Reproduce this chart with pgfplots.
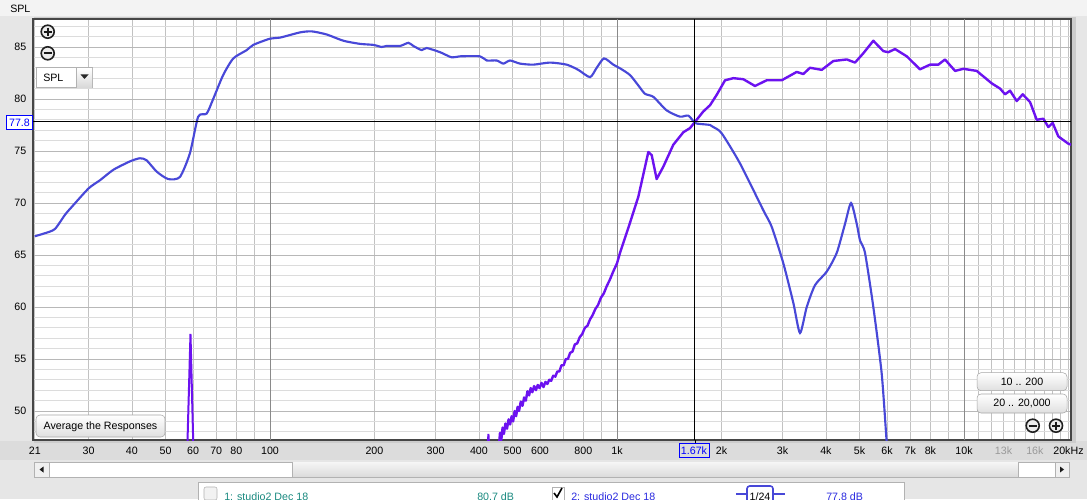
\documentclass[border=0pt]{standalone}
\usepackage{fontspec}
\setmainfont{Liberation Sans}
\usepackage{pgfplots}
\usepackage{pgfplotstable}
\pgfplotsset{compat=1.18}

\definecolor{winbg}{HTML}{E6E6E6}
\definecolor{topbg}{HTML}{F3F3F3}
\definecolor{bandbg}{HTML}{DCDCDC}
\definecolor{gridx}{HTML}{C2C2C2}
\definecolor{gridy}{HTML}{DCDCDC}
\definecolor{gridy5}{HTML}{B8B8B8}
\definecolor{griddec}{HTML}{8A8A8A}
\definecolor{woofer}{HTML}{4848D8}
\definecolor{tweeter}{HTML}{6C12F0}
\definecolor{tealtxt}{HTML}{1A8A80}
\definecolor{bluetxt}{HTML}{2A2AE0}

% frequency (Hz), SPL (dB)
\pgfplotstableread{
f spl
21 66.8
22.5 67.1
24.0 67.5
25.7 68.9
26.8 69.6
30.0 71.4
32.4 72.2
35.4 73.2
39.5 74.0
42.2 74.3
44.1 74.1
47.2 73.0
50.9 72.3
55.0 72.5
58.8 74.8
62.1 78.3
65.7 78.6
68.6 80.0
73.3 82.3
78.4 83.9
85.7 84.7
89.5 85.2
100 85.8
106.9 85.9
122 86.4
131.9 86.5
145.7 86.2
162.7 85.6
181.6 85.3
198.5 85.2
209.9 85.0
216.9 85.1
237 85.1
250.4 85.4
258.8 85.1
273.7 84.7
282.8 84.9
309 84.5
334 84.0
352.7 84.1
402.9 84.1
421.2 83.7
450.1 83.7
470.3 83.4
491.6 83.7
525.4 83.4
573.9 83.3
641 83.5
716.1 83.3
773.4 82.8
836 82.1
873.9 83.0
917.6 83.9
975.7 83.3
1020 82.95
1090 82.3
1152 81.3
1204 80.5
1273 80.2
1391 78.9
1519 78.3
1605 78.4
1678 77.7
1735 77.6
1854 77.5
1895 77.3
2003 76.7
2262 73.8
2640 69.3
2792 67.7
3015 64.2
3222 60.4
3368 57.5
3522 60.0
3721 62.1
4021 63.4
4297 65.2
4541 68.0
4725 70.0
4907 68.0
5015 66.4
5184 65.2
5478 60.0
5791 53.6
5987 47.0
6100 44.0
}\woofer

\pgfplotstableread{
f spl
57.5 44.0
59.0 57.4
60.4 44.0
}\tweeterspike

\pgfplotstableread{
f spl
421 45.0
426 47.8
431 45.0
}\tweeterbit

\pgfplotstableread{
f spl
452 44.5
460 47.9
464 47.2
468 48.4
472 47.8
477 48.8
482 48.3
487 49.2
492 48.7
497 49.5
502 49.0
507 50.0
512 49.5
517 50.4
522 50.0
528 50.9
534 50.5
540 51.3
546 51.0
552 51.9
558 51.5
564 52.2
570 51.8
577 52.4
584 52.0
591 52.5
598 52.2
606 52.7
614 52.3
622 52.8
630 52.6
638 53.0
646 52.9
655 53.4
664 53.3
673 53.8
682 53.8
692 54.4
702 54.4
712 55.0
722 55.0
733 55.6
744 55.7
756 56.4
768 56.5
781 57.1
794 57.4
808 58.0
822 58.2
836 58.8
850 59.2
866 59.8
882 60.2
899 60.9
916 61.3
934 62.0
953 62.6
975 63.4
1000 64.2
1020 65.2
1078 67.6
1152 70.6
1231 74.9
1259 74.6
1301 72.3
1360 73.5
1453 75.6
1553 76.8
1623 77.2
1678 77.8
1773 78.8
1854 79.4
1938 80.4
2048 81.8
2164 82.0
2312 81.9
2498 81.25
2700 81.8
2983 81.8
3295 82.6
3443 82.4
3599 83.0
3891 82.8
4201 83.65
4592 83.8
4852 83.5
5128 84.4
5478 85.6
5854 84.6
6053 84.5
6328 84.8
6839 84.1
7467 82.85
7980 83.3
8432 83.3
8815 83.8
9421 82.7
9954 82.9
10880 82.7
12020 81.5
12700 81.0
13130 80.45
13570 80.8
14190 79.8
14760 80.45
15500 79.7
16200 78.0
16930 78.1
17500 77.3
18010 77.7
18700 76.4
19980 75.7
20400 75.6
}\tweeter

\begin{document}
\begin{tikzpicture}[font=\fontsize{8}{9.6}\selectfont]
\useasboundingbox (0,0) rectangle (815.25pt,-374.25pt);
\clip (0,0) rectangle (815.25pt,-374.25pt);
\begin{scope}[x=0.75pt,y=-0.75pt]
  \fill[winbg] (0,0) rectangle (1087,499);
  \fill[topbg] (0,0) rectangle (1087,16);
  \fill[bandbg] (0,441) rectangle (1087,460);
  \fill[gray!40] (34,17) rectangle (1076,443);
  \node[anchor=west, inner sep=0pt] at (10,9) {SPL};
\end{scope}

\begin{axis}[
  at={(24.75pt,-330pt)}, anchor=south west,
  scale only axis, width=778.5pt, height=315.75pt,
  xmode=log, xmin=20.75, xmax=20340, ymin=47.21, ymax=87.69,
  axis background/.style={fill=white},
  axis line style={draw=gray!55!black, line width=1pt},
  major tick length=0pt, minor tick length=0pt,
  grid=both,
  major x grid style={draw=gridx, line width=0.6pt},
  minor x grid style={draw=gridx, line width=0.6pt},
  major y grid style={draw=gridy5, line width=0.6pt},
  minor y grid style={draw=gridy, line width=0.6pt},
  xtick={21,30,40,50,60,70,80,200,300,400,500,600,800,2000,3000,4000,5000,6000,7000,8000,13000,16000,20000},
  xticklabels={21,30,40,50,60,70,80,200,300,400,500,600,800,2k,3k,4k,5k,6k,7k,8k,\textcolor{gray!80}{13k},\textcolor{gray!80}{16k},20kHz},
  minor xtick={90,700,900,9000,11000,12000,14000,15000,17000,18000,19000},
  extra x ticks={100,1000,10000},
  extra x tick labels={100,1k,10k},
  extra x tick style={major x grid style={draw=griddec, line width=0.7pt}},
  ytick={50,55,60,65,70,75,80,85},
  yticklabels={50,55,60,65,70,75,80,85},
  minor ytick={48,49,51,52,53,54,56,57,58,59,61,62,63,64,66,67,68,69,71,72,73,74,76,77,78,79,81,82,83,84,86,87},
  xticklabel style={yshift=-1.5pt},
  yticklabel style={xshift=-1.5pt},
]
\addplot[color=tweeter, line width=1.5pt] table[x=f, y=spl] {\tweeterspike};
\addplot[color=tweeter, line width=1.5pt] table[x=f, y=spl] {\tweeterbit};
\addplot[color=tweeter, line width=1.8pt, line join=round] table[x=f, y=spl] {\tweeter};
\addplot[color=woofer, line width=1.6pt, smooth, tension=0.4] table[x=f, y=spl] {\woofer};
% cursor
\draw[black, line width=0.75pt] (axis cs:1670,47.21) -- (axis cs:1670,87.69);
\draw[black, line width=0.75pt] (axis cs:20.75,77.8) -- (axis cs:20340,77.8);
\end{axis}

\begin{scope}[x=0.75pt,y=-0.75pt]
  % cursor readouts
  \draw[black, line width=0.75pt] (695,440) -- (695,443);
  \node[draw=blue, fill=bandbg, text=blue, line width=0.75pt, minimum width=22.5pt, minimum height=11pt, inner sep=1pt] at (694,450.5) {1.67k};
  \node[draw=blue, fill=white, text=blue, line width=0.75pt, minimum width=19pt, minimum height=10pt, inner sep=1pt] at (19.5,122.5) {77.8};
  % zoom buttons top left
  \foreach \yy/\sg in {31.7/1,53.3/0}{
    \draw[gray!25!black, fill=gray!15, line width=1.2pt] (47.7,\yy) circle (6.5);
    \draw[gray!20!black, line width=1.5pt] (43.7,\yy) -- (51.7,\yy);
    \ifnum\sg=1 \draw[gray!20!black, line width=1.5pt] (47.7,\yy-4) -- (47.7,\yy+4); \fi
  }
  % SPL dropdown
  \draw[gray!60, fill=white] (36,67.7) rectangle (92.7,87.7);
  \shade[top color=white, bottom color=gray!30] (76.7,68.2) rectangle (92.2,87.2);
  \draw[gray!60] (76.7,67.7) -- (76.7,87.7);
  \fill[gray!30!black] (80.5,74.5) -- (88.5,74.5) -- (84.5,79) -- cycle;
  \node[anchor=west, inner sep=0pt] at (43,77.7) {SPL};
  % Average button
  \shade[top color=white, bottom color=gray!25, rounded corners=3pt] (36,415) rectangle (165,437);
  \draw[gray!70, rounded corners=3pt] (36,415) rectangle (165,437);
  \node at (100.5,426.5) {Average the Responses};
  % range buttons
  \foreach \ya/\yb/\txt in {372.7/390.7/{10 .. 200},394/413/{20 .. 20,000}}{
    \shade[top color=white, bottom color=gray!25, rounded corners=3pt] (977,\ya) rectangle (1067,\yb);
    \draw[gray!70, rounded corners=3pt] (977,\ya) rectangle (1067,\yb);
    \node at (1022,{(\ya+\yb)/2}) {\txt};
  }
  \foreach \xx/\sg in {1032.7/0,1056/1}{
    \draw[gray!25!black, fill=gray!15, line width=1.2pt] (\xx,425.7) circle (6.5);
    \draw[gray!20!black, line width=1.5pt] (\xx-4,425.7) -- (\xx+4,425.7);
    \ifnum\sg=1 \draw[gray!20!black, line width=1.5pt] (\xx,421.7) -- (\xx,429.7); \fi
  }
  % scrollbar
  \draw[gray!60, fill=white] (34,462) rectangle (1069,477);
  \shade[top color=gray!8, bottom color=gray!28] (292,462.5) rectangle (1018.7,476.5);
  \draw[gray!60] (292,462) -- (292,477) (1018.7,462) -- (1018.7,477);
  \draw[gray!60, fill=gray!12] (34,462) rectangle (49,477);
  \draw[gray!60, fill=gray!12] (1055,462) rectangle (1069,477);
  \fill[gray!20!black] (39.5,469.5) -- (43.5,466.5) -- (43.5,472.5) -- cycle;
  \fill[gray!20!black] (1064,469.5) -- (1060,466.5) -- (1060,472.5) -- cycle;
  % overlay panel (cut off by the window edge, as in the screenshot)
  \draw[gray!60, fill=white] (198,482) rectangle (904,515);
  \draw[gray!60, fill=gray!10, rounded corners=1.5pt] (204,487) rectangle (217,500);
  \draw[gray!60, fill=white] (552,487) rectangle (564,500);
  \draw[black, line width=1.2pt] (554,493) -- (557,497) -- (562,488);
  \node[anchor=base west, inner sep=0pt, text=tealtxt] at (224,500.5) {1: studio2 Dec 18};
  \node[anchor=base west, inner sep=0pt, text=tealtxt] at (477,500.5) {80.7 dB};
  \node[anchor=base west, inner sep=0pt, text=bluetxt] at (571,500.5) {2: studio2 Dec 18};
  \node[anchor=base west, inner sep=0pt, text=bluetxt] at (826,500.5) {77.8 dB};
  \draw[woofer, line width=1.5pt] (736,494) -- (785,494);
  \draw[woofer, line width=1.2pt, fill=white, rounded corners=2pt] (747,486) rectangle (773,505);
  \node[anchor=base, inner sep=0pt] at (760,500.5) {1/24};
\end{scope}
\end{tikzpicture}
\end{document}
